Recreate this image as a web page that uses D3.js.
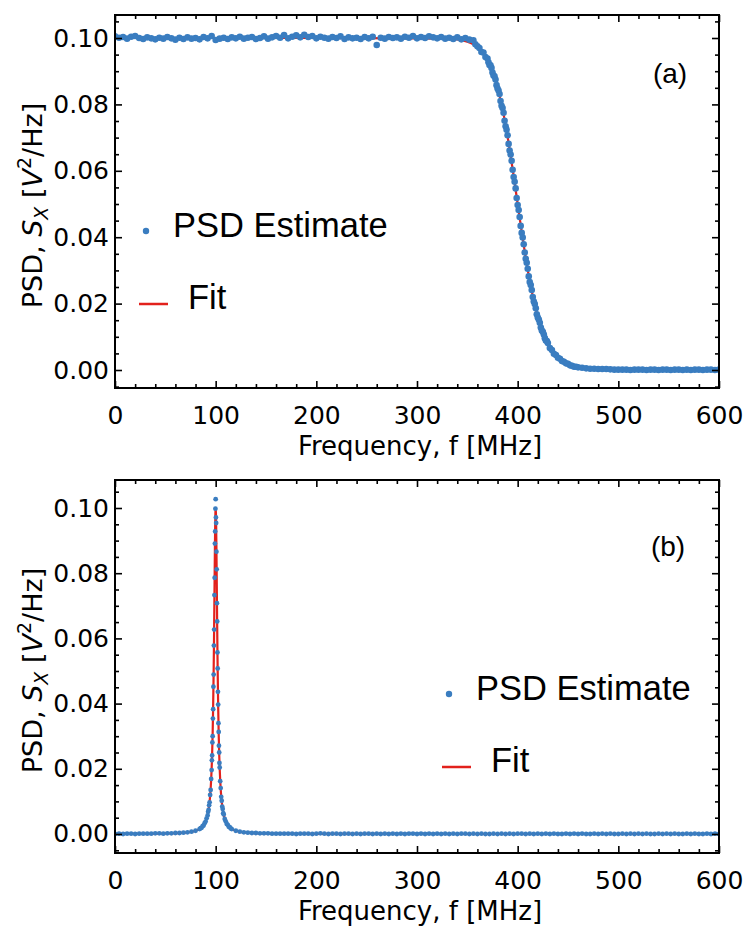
<!DOCTYPE html>
<html>
<head>
<meta charset="utf-8">
<script src="https://cdn.jsdelivr.net/npm/d3@7"></script>
<style>
  body { margin: 0; background: #fff; }
</style>
</head>
<body>
<div id="chart"></div>
<script>
// ---- panel (a): low-pass PSD ----
var freqA = [0,4,8,12,16,20,24,28,32,36,40,44,48,52,56,60,64,68,72,76,80,84,88,92,96,100,104,108,112,116,
  120,124,128,132,136,140,144,148,152,156,160,164,168,172,176,180,184,188,192,196,200,204,208,212,216,220,224,228,232,236,
  240,244,248,252,256,260,264,268,272,276,280,284,288,292,296,300,304,308,312,316,320,324,328,332,336,340,344,348,352,356,
  358,360,362,364,366,368,
  370,371,372,373,374,375,376,377,378,379,380,381,382,383,384,385,386,387,388,389,
  390,391,392,393,394,395,396,397,398,399,400,401,402,403,404,405,406,407,408,409,
  410,411,412,413,414,415,416,417,418,419,420,421,422,423,424,425,426,427,428,429,430,
  432,434,436,438,440,442,444,446,448,450,452,454,456,458,460,464,468,
  472,476,480,484,488,492,496,500,504,508,512,516,520,524,528,532,536,540,544,548,552,556,560,564,568,572,576,580,584,588,592,596,600];
var psdA = [0.1005,0.1001,0.1003,0.0998,0.1004,0.1006,0.1000,0.0997,0.1002,0.0999,
  0.0996,0.1001,0.0998,0.1003,0.0999,0.0995,0.1001,0.0997,0.1002,0.0998,
  0.1000,0.0996,0.1003,0.0999,0.1006,0.0994,0.0998,0.1001,0.0997,0.1002,
  0.0999,0.1004,0.0998,0.1001,0.1003,0.0997,0.1000,0.1005,0.0998,0.1002,
  0.1006,0.1001,0.1009,0.0999,0.1004,0.1008,0.1002,0.1010,0.1003,0.1006,
  0.0999,0.1004,0.1001,0.0998,0.1003,0.1000,0.1005,0.0997,0.1002,0.0999,
  0.1001,0.0997,0.1003,0.0999,0.1004,0.0979,0.1001,0.0998,0.1003,0.1000,
  0.1002,0.0998,0.1004,0.1001,0.1006,0.0999,0.1003,0.1000,0.1005,0.1002,
  0.0999,0.1003,0.0998,0.1001,0.0997,0.1002,0.0996,0.1000,0.0995,0.0993,
  0.0981,0.0975,0.0970,0.0958,0.0956,0.0943,
  0.0938,0.0927,0.0919,0.0918,0.0910,0.0896,0.0887,0.0885,0.0875,0.0858,
  0.0848,0.0842,0.0831,0.0810,0.0796,0.0789,0.0775,0.0751,0.0734,0.0724,
  0.0707,0.0681,0.0661,0.0649,0.0630,0.0603,0.0581,0.0567,0.0547,0.0518,
  0.0497,0.0482,0.0461,0.0434,0.0413,0.0399,0.0379,0.0354,0.0335,0.0323,
  0.0305,0.0282,0.0265,0.0256,0.0241,0.0220,0.0206,0.0199,0.0186,0.0168,
  0.0158,0.0152,0.0142,0.0128,0.0119,0.0115,0.0107,0.0096,0.0089,0.0087,0.0081,
  0.0066,0.0060,0.0049,0.0045,0.0037,0.0034,0.0027,0.0025,0.0020,0.0019,0.0014,0.0013,0.0010,0.0010,0.0008,0.0007,0.0005,
  0.0004,0.0004,0.0003,0.0003,0.0003,0.0002,0.0001,0.0001,0.0001,0.0001,
  0.0000,0.0001,0.0001,0.0001,0.0000,0.0001,0.0001,0.0000,0.0001,0.0001,
  0.0000,0.0001,0.0001,0.0000,0.0001,0.0000,0.0001,0.0001,0.0000,0.0001,
  0.0001,0.0000,0.0001];
var fitFreqA = [0,100,200,300,330,340,350,356,360,364,368,372,376,380,384,388,392,396,400,404,
  408,412,416,420,424,428,432,436,440,446,452,460,470,480,500,600];
var fitA = [0.1000,0.1000,0.1000,0.0999,0.0998,0.0996,0.0989,0.0981,0.0973,0.0961,0.0945,0.0922,0.0891,0.0851,0.0800,0.0738,0.0665,0.0585,0.0500,0.0416,
  0.0338,0.0268,0.0209,0.0160,0.0121,0.0091,0.0068,0.0051,0.0038,0.0024,0.0015,0.0009,0.0004,0.0002,0.0001,0.0000];

// ---- panel (b): resonance PSD ----
var freqB = [0,4,8,12,16,20,24,28,32,36,40,44,48,52,56,60,64,68,72,76,80,84,
  85,86,87,88,89,90,91,92,
  92.5,93,93.5,94,94.5,95,95.5,96,
  96.25,96.5,96.75,97,97.25,97.5,97.75,98,98.25,98.5,98.75,99,99.25,99.5,99.75,100,
  100.25,100.5,100.75,101,101.25,101.5,101.75,102,102.25,102.5,102.75,103,103.25,103.5,103.75,
  104,104.5,105,105.5,106,106.5,107,107.5,
  108,109,110,111,112,113,114,115,
  116,120,124,128,132,136,140,144,148,152,156,160,
  164,168,172,176,180,184,188,192,196,200,204,208,212,216,220,224,228,232,236,240,
  244,248,252,256,260,264,268,272,276,280,284,288,292,296,300,304,308,312,316,320,
  324,328,332,336,340,344,348,352,356,360,364,368,372,376,380,384,388,392,396,400,
  404,408,412,416,420,424,428,432,436,440,444,448,452,456,460,464,468,472,476,480,
  484,488,492,496,500,504,508,512,516,520,524,528,532,536,540,544,548,552,556,560,
  564,568,572,576,580,584,588,592,596,600];
var psdB = [0.0000,0.0001,0.0000,0.0001,0.0001,0.0000,0.0001,0.0001,0.0001,0.0001,0.0002,0.0002,0.0001,0.0002,0.0002,0.0003,0.0003,0.0004,0.0005,0.0007,0.0010,0.0015,
  0.0018,0.0019,0.0024,0.0026,0.0033,0.0038,0.0048,0.0057,
  0.0068,0.0074,0.0088,0.0097,0.0120,0.0135,0.0169,0.0196,
  0.0226,0.0241,0.0281,0.0300,0.0354,0.0383,0.0452,0.0489,0.0578,0.0627,0.0733,0.0786,0.0891,0.0928,0.0998,0.1027,
  0.0971,0.0954,0.0866,0.0812,0.0708,0.0652,0.0557,0.0508,0.0436,0.0397,0.0340,0.0313,0.0271,0.0250,0.0218,
  0.0204,0.0162,0.0141,0.0114,0.0102,0.0084,0.0077,0.0064,
  0.0060,0.0046,0.0039,0.0031,0.0028,0.0022,0.0021,0.0017,
  0.0015,0.0010,0.0007,0.0005,0.0004,0.0003,0.0003,0.0002,0.0002,0.0002,0.0001,0.0001,
  0.0001,0.0001,0.0001,0.0001,0.0000,0.0001,0.0001,0.0001,0.0000,0.0001,0.0002,0.0001,0.0000,0.0001,0.0001,0.0000,0.0001,0.0001,0.0000,0.0001,
  0.0000,0.0001,0.0001,0.0000,0.0001,0.0000,0.0001,0.0000,0.0001,0.0000,0.0001,0.0000,0.0001,0.0001,0.0000,0.0001,0.0000,0.0001,0.0000,0.0001,
  0.0000,0.0001,0.0000,0.0001,0.0000,0.0001,0.0001,0.0000,0.0001,0.0000,0.0001,0.0000,0.0000,0.0001,0.0000,0.0001,0.0000,0.0001,0.0000,0.0001,
  0.0001,0.0000,0.0001,0.0000,0.0001,0.0000,0.0001,0.0000,0.0001,0.0000,0.0000,0.0001,0.0000,0.0001,0.0000,0.0001,0.0000,0.0000,0.0001,0.0000,
  0.0001,0.0000,0.0001,0.0000,0.0000,0.0001,0.0000,0.0001,0.0000,0.0001,0.0000,0.0001,0.0000,0.0000,0.0001,0.0000,0.0001,0.0000,0.0001,0.0000,
  0.0000,0.0001,0.0000,0.0001,0.0000,0.0000,0.0001,0.0000,0.0001,0.0000];
var fitFreqB = [0,20,40,60,70,76,80,84,86,88,90,91,92,93,94,94.5,95,95.5,96,96.5,97,97.5,98,
  98.25,98.5,98.75,99,99.25,99.5,99.75,100,100.25,100.5,100.75,101,101.25,101.5,101.75,102,
  102.5,103,103.5,104,104.5,105,105.5,106,107,108,109,110,112,114,116,120,124,130,140,160,200,300,400,600];
var fitB = [0.00004,0.00006,0.00011,0.00025,0.00044,0.00069,0.00099,0.0015,0.0020,0.0027,0.00385,0.0047,0.00588,0.00755,0.0100,0.0117,0.0138,0.0165,0.0200,0.0246,0.0308,0.0390,0.0500,
  0.0566,0.0640,0.0719,0.0800,0.0877,0.0941,0.0985,0.1000,0.0985,0.0941,0.0877,0.0800,0.0719,0.0640,0.0566,0.0500,
  0.0390,0.0308,0.0246,0.0200,0.0165,0.0138,0.0117,0.0100,0.00755,0.00588,0.0047,0.00385,0.0027,0.0020,0.0015,0.00099,0.00069,0.00044,0.00025,0.00011,0.00004,0.00001,0,0];

// ticks
var xMajor = [0,100,200,300,400,500,600];
var xMinor = [20,40,60,80,120,140,160,180,220,240,260,280,320,340,360,380,420,440,460,480,520,540,560,580];
var yMajor = [0,0.02,0.04,0.06,0.08,0.10];
var yMinor = [-0.005,0.005,0.01,0.015,0.025,0.03,0.035,0.045,0.05,0.055,0.065,0.07,0.075,0.085,0.09,0.095,0.105];

var blue = "#3a7dc0", red = "#e2211c";
var tickFont = "DejaVu Sans", textFont = "Liberation Sans";

var w = 746, h = 938;
var left = 115, right = 719;

var svg = d3.select("#chart").append("svg")
    .attr("width", w)
    .attr("height", h);

var panels = [
  { top: 15, bottom: 388, ymin: -0.00542, ymax: 0.10693, freq: freqA, psd: psdA, fitF: fitFreqA, fit: fitA,
    r: 3.3, label: "(a)", labelX: 670, labelY: 83, legX: 146, legY: 231 },
  { top: 480, bottom: 853, ymin: -0.00583, ymax: 0.10859, freq: freqB, psd: psdB, fitF: fitFreqB, fit: fitB,
    r: 2.4, label: "(b)", labelX: 668, labelY: 556, legX: 449, legY: 694 }
];

panels.forEach(function(p) {
  var x = d3.scaleLinear().domain([0, 600]).range([left, right]);
  var y = d3.scaleLinear().domain([p.ymin, p.ymax]).range([p.bottom, p.top]);
  var g = svg.append("g");

  // clip to frame
  var cid = "clip" + p.top;
  svg.append("clipPath").attr("id", cid).append("rect")
    .attr("x", left).attr("y", p.top).attr("width", right - left).attr("height", p.bottom - p.top);

  var plot = g.append("g").attr("clip-path", "url(#" + cid + ")");

  // fit line
  var line = d3.line()
    .x(function(d) { return x(d[0]); })
    .y(function(d) { return y(d[1]); })
    .curve(d3.curveMonotoneX);
  plot.append("path")
    .datum(d3.zip(p.fitF, p.fit))
    .attr("d", line)
    .attr("fill", "none")
    .attr("stroke", red)
    .attr("stroke-width", 2.2);

  // estimate points
  plot.selectAll("circle").data(d3.zip(p.freq, p.psd))
    .enter().append("circle")
    .attr("cx", function(d) { return x(d[0]); })
    .attr("cy", function(d) { return y(d[1]); })
    .attr("r", p.r)
    .attr("fill", blue);

  // ticks, all pointing inward
  function ax(gen, scale, vals, size, pad, labels, tr) {
    var a = gen(scale).tickValues(vals).tickSizeInner(-size).tickSizeOuter(0).tickPadding(pad);
    if (labels) a.tickFormat(labels); else a.tickFormat("");
    var ga = g.append("g").attr("transform", tr).call(a);
    ga.select(".domain").remove();
    ga.selectAll("line").attr("stroke", "#000").attr("stroke-width", 1.6);
    ga.selectAll("text").attr("font-family", tickFont).attr("font-size", 25).attr("fill", "#000");
    return ga;
  }
  var yMin = yMinor.filter(function(v) { return v > p.ymin && v < p.ymax; });
  ax(d3.axisBottom, x, xMajor, 7, 18, d3.format("d"), "translate(0," + p.bottom + ")");
  ax(d3.axisBottom, x, xMinor, 4, 0, null, "translate(0," + p.bottom + ")");
  ax(d3.axisTop, x, xMajor, 7, 0, null, "translate(0," + p.top + ")");
  ax(d3.axisTop, x, xMinor, 4, 0, null, "translate(0," + p.top + ")");
  ax(d3.axisLeft, y, yMajor, 7, 6, d3.format(".2f"), "translate(" + left + ",0)");
  ax(d3.axisLeft, y, yMin, 4, 0, null, "translate(" + left + ",0)");
  ax(d3.axisRight, y, yMajor, 7, 0, null, "translate(" + right + ",0)");
  ax(d3.axisRight, y, yMin, 4, 0, null, "translate(" + right + ",0)");

  // frame
  g.append("rect")
    .attr("x", left).attr("y", p.top)
    .attr("width", right - left).attr("height", p.bottom - p.top)
    .attr("fill", "none").attr("stroke", "#000").attr("stroke-width", 2);

  // x title
  g.append("text")
    .attr("x", (left + right) / 2 + 3)
    .attr("y", p.bottom + 67)
    .attr("text-anchor", "middle")
    .attr("font-family", tickFont).attr("font-size", 26)
    .text("Frequency, f [MHz]");

  // y title
  var yt = g.append("text")
    .attr("transform", "translate(42," + ((p.top + p.bottom) / 2 + 4) + ") rotate(-90)")
    .attr("text-anchor", "middle")
    .attr("font-family", tickFont).attr("font-size", 27);
  yt.append("tspan").text("PSD, ");
  yt.append("tspan").attr("font-style", "italic").text("S");
  yt.append("tspan").attr("font-style", "italic").attr("font-size", 19).attr("dy", 6).text("X");
  yt.append("tspan").attr("dy", -6).text(" [");
  yt.append("tspan").attr("font-style", "italic").text("V");
  yt.append("tspan").attr("font-size", 19).attr("dy", -11).text("2");
  yt.append("tspan").attr("dy", 11).text("/Hz]");

  // panel label
  g.append("text")
    .attr("x", p.labelX).attr("y", p.labelY)
    .attr("text-anchor", "middle")
    .attr("font-family", textFont).attr("font-size", 28)
    .text(p.label);

  // legend
  var lg = g.append("g").attr("class", "legend");
  lg.append("circle").attr("cx", p.legX).attr("cy", p.legY).attr("r", 3.2).attr("fill", blue);
  lg.append("text").attr("x", p.legX + 27).attr("y", p.legY + 6)
    .attr("font-family", textFont).attr("font-size", 34.5).text("PSD Estimate");
  lg.append("line")
    .attr("x1", p.legX - 7).attr("x2", p.legX + 22)
    .attr("y1", p.legY + 73).attr("y2", p.legY + 73)
    .attr("stroke", red).attr("stroke-width", 2.5);
  lg.append("text").attr("x", p.legX + 42).attr("y", p.legY + 78)
    .attr("font-family", textFont).attr("font-size", 34.5).text("Fit");
});
</script>
</body>
</html>
